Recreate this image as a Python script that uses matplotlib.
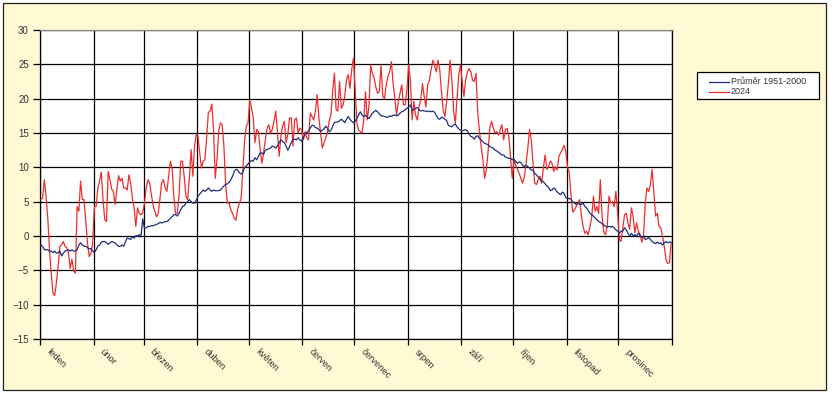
import numpy as np
import matplotlib
matplotlib.use('Agg')
import matplotlib.pyplot as plt
from matplotlib.patches import Rectangle
from matplotlib.lines import Line2D
from matplotlib.transforms import blended_transform_factory

plt.rcParams['font.family'] = ['Liberation Sans', 'DejaVu Sans']

months = ['leden', 'únor', 'březen', 'duben', 'květen', 'červen',
          'červenec', 'srpen', 'září', 'říjen', 'listopad', 'prosinec']
month_lengths = [31, 29, 31, 30, 31, 30, 31, 31, 30, 31, 30, 31]
y_ticks = [-15, -10, -5, 0, 5, 10, 15, 20, 25, 30]
label_avg = 'Průměr 1951-2000'
label_2024 = '2024'

# --- daily means 2024 (°C) ---
t24_jan = [5.3, 5.5, 8.2, 5.8, 2.6, -2.0, -5.4, -8.3, -8.7, -6.8, -4.4, -1.5, -1.3, -0.8, -1.5, -1.7,
           -2.5, -4.7, -3.4, -5.1, -5.4, 4.3, 3.6, 8.0, 5.3, 5.3, 2.1, -1.0, -3.0, -2.5, -1.0]
t24_feb = [4.3, 4.3, 7.0, 8.0, 9.3, 5.3, 2.4, 2.1, 9.4, 8.2, 6.8, 6.5, 4.6, 6.7, 8.8, 8.0, 8.4,
           7.0, 7.0, 6.7, 8.9, 7.7, 5.5, 4.1, 1.4, 4.1, 3.3, 3.1, 3.4]
t24_mar = [4.8, 7.0, 8.2, 7.7, 6.0, 4.5, 3.6, 2.8, 3.3, 5.5, 7.8, 8.2, 7.0, 6.5, 8.7, 10.9, 9.9,
           5.8, 3.3, 3.3, 5.8, 10.9, 10.9, 8.7, 5.8, 5.3, 8.5, 12.6, 8.7, 13.1, 14.8]
t24_apr = [14.5, 12.1, 9.9, 10.9, 11.1, 14.3, 18.0, 18.2, 19.2, 15.5, 8.4, 11.1, 15.3, 16.5, 16.2,
           13.1, 7.5, 4.8, 4.8, 3.8, 3.3, 2.6, 2.3, 4.0, 4.8, 5.5, 9.7, 14.0, 16.0, 16.5]
t24_may = [19.8, 18.6, 17.2, 13.6, 15.5, 15.2, 12.6, 10.6, 12.1, 14.0, 15.7, 16.2, 15.0, 15.5, 16.7,
           18.2, 15.2, 11.6, 14.5, 16.0, 16.7, 13.6, 14.8, 17.2, 17.2, 13.1, 16.9, 17.2, 15.0, 15.7, 15.5]
t24_jun = [14.0, 15.2, 14.3, 14.0, 17.9, 17.4, 16.9, 18.2, 20.6, 17.2, 15.0, 12.8, 13.6, 14.3, 15.2,
           16.7, 17.7, 21.1, 23.7, 18.4, 18.2, 22.5, 18.6, 19.1, 20.3, 22.8, 23.5, 21.5, 24.2, 25.9]
t24_jul = [21.5, 16.4, 15.4, 15.2, 15.0, 16.9, 21.0, 16.9, 18.8, 24.9, 23.7, 23.0, 21.7, 20.8, 21.0,
           24.9, 20.3, 20.0, 22.0, 23.2, 23.9, 25.4, 22.2, 20.0, 17.6, 19.6, 20.8, 22.0, 19.1, 19.1, 21.3]
t24_aug = [24.9, 22.7, 16.9, 19.6, 17.6, 16.9, 18.8, 19.8, 22.2, 20.3, 18.8, 22.0, 22.7, 24.2, 25.6,
           24.9, 23.9, 25.6, 24.2, 21.0, 18.3, 17.4, 19.6, 22.2, 25.6, 22.7, 18.3, 16.4, 20.0, 23.5, 24.9]
t24_sep = [22.5, 20.3, 22.7, 23.9, 24.4, 23.9, 22.7, 22.5, 23.7, 18.0, 15.2, 13.0, 11.1, 8.4, 9.7,
           12.3, 15.7, 16.7, 15.7, 15.0, 15.2, 14.7, 15.5, 16.2, 14.0, 15.5, 15.7, 14.5, 11.5, 8.4]
t24_oct = [11.1, 10.3, 9.7, 9.1, 8.4, 7.7, 8.6, 10.6, 12.8, 15.5, 14.0, 10.6, 7.7, 7.5, 8.2, 8.7,
           7.7, 9.9, 11.8, 9.7, 10.1, 10.9, 10.6, 9.4, 10.1, 9.6, 11.6, 12.1, 12.6, 13.2, 12.3]
t24_nov = [10.1, 9.2, 6.0, 3.5, 3.8, 4.3, 4.8, 5.3, 3.0, 1.4, 0.4, 0.7, 0.2, 1.4, 2.7, 5.8, 3.6,
           4.3, 3.3, 8.2, 2.9, 0.5, 0.2, 1.5, 5.8, 4.8, 5.0, 4.3, 6.5, 3.5]
t24_dec = [-0.5, -0.8, 1.2, 3.1, 3.3, 1.9, 1.0, 4.1, 2.8, 0.5, 1.9, 0.7, 0.2, -0.9, 0.0, 4.8, 7.0,
           6.5, 7.5, 9.7, 6.3, 2.9, 3.3, 1.4, 1.2, 0.0, -1.5, -3.4, -4.0, -3.9, -1.0]

# --- long-term daily mean 1951-2000 (°C) ---
avg_jan = [-1.3, -1.5, -2.0, -2.0, -2.0, -2.2, -2.2, -2.4, -2.2, -2.5, -2.4, -2.2, -2.9, -2.5, -2.2,
           -2.1, -2.0, -2.2, -2.0, -2.2, -2.2, -2.0, -1.3, -1.0, -1.3, -1.5, -1.5, -1.7, -1.9, -1.8, -2.2]
avg_feb = [-2.4, -2.0, -1.5, -1.3, -0.9, -0.8, -0.8, -1.0, -1.2, -1.0, -0.8, -0.9, -1.0, -1.3, -1.5,
           -1.5, -1.3, -1.5, -0.8, -0.3, -0.4, -0.5, -0.1, -0.3, 0.05, 0.0, 0.2, 0.0, 2.5]
avg_mar = [1.1, 1.2, 1.4, 1.4, 1.5, 1.5, 1.6, 1.7, 1.8, 2.0, 1.9, 2.0, 2.1, 2.1, 2.3, 2.6, 2.8, 3.1,
           3.1, 2.9, 3.3, 3.8, 4.3, 4.4, 4.8, 5.0, 5.3, 5.0, 4.8, 4.8, 5.2]
avg_apr = [5.8, 6.1, 6.4, 6.7, 6.5, 6.7, 7.0, 6.7, 6.5, 6.7, 6.6, 6.6, 6.6, 6.7, 7.0, 7.3, 7.5, 7.6,
           7.8, 8.2, 8.7, 9.4, 9.7, 9.6, 9.2, 9.0, 9.3, 10.0, 10.2, 10.5]
avg_may = [10.8, 11.0, 10.9, 11.4, 11.1, 11.6, 12.1, 12.1, 11.9, 12.5, 12.6, 12.7, 12.8, 13.1, 13.0,
           12.8, 13.1, 13.6, 14.0, 13.8, 13.6, 13.1, 12.5, 13.0, 13.6, 14.0, 14.1, 14.0, 14.3, 14.0, 13.8]
avg_jun = [14.3, 14.8, 15.1, 15.3, 15.7, 16.1, 16.1, 15.8, 15.7, 15.5, 15.2, 15.4, 15.6, 16.0, 15.7,
           15.2, 15.4, 16.0, 16.5, 16.6, 16.6, 16.8, 17.0, 16.8, 16.5, 17.0, 17.4, 17.0, 16.7, 16.5]
avg_jul = [16.7, 17.1, 17.6, 18.1, 17.6, 17.4, 17.6, 17.3, 17.1, 17.5, 17.9, 18.1, 18.3, 18.1, 17.8,
           17.5, 17.5, 17.4, 17.3, 17.3, 17.5, 17.4, 17.6, 17.6, 17.5, 17.6, 17.9, 18.1, 18.2, 18.4, 18.6]
avg_aug = [18.8, 19.1, 18.3, 18.4, 18.6, 18.7, 18.4, 18.2, 18.3, 18.2, 18.2, 18.1, 18.2, 18.1, 18.2,
           18.0, 17.6, 17.1, 17.0, 17.3, 17.2, 17.0, 16.8, 16.1, 16.0, 15.9, 16.2, 16.3, 15.9, 15.6, 15.4]
avg_sep = [15.3, 15.4, 15.5, 15.3, 14.8, 14.5, 14.4, 14.1, 14.5, 14.6, 14.2, 14.0, 13.7, 13.5, 13.4,
           13.3, 13.0, 12.9, 12.8, 12.5, 12.4, 12.2, 12.0, 11.8, 11.8, 11.5, 11.4, 11.3, 11.3, 11.1]
avg_oct = [11.2, 10.8, 10.6, 10.8, 10.7, 10.3, 10.1, 10.3, 10.1, 9.9, 9.6, 9.6, 9.1, 8.9, 8.6, 8.3,
           8.0, 7.9, 7.6, 7.3, 7.1, 6.6, 6.7, 7.0, 6.8, 6.4, 6.2, 6.0, 6.4, 6.2, 5.6]
avg_nov = [5.4, 5.5, 5.3, 5.0, 4.8, 4.6, 4.8, 4.6, 4.6, 4.8, 4.3, 4.1, 3.7, 3.3, 3.1, 2.9, 2.6, 2.4,
           2.1, 2.0, 1.8, 1.6, 1.4, 1.3, 1.4, 1.3, 1.4, 1.2, 0.9, 0.7]
avg_dec = [0.4, 0.7, 0.7, 1.2, 0.9, 0.4, 0.0, 0.4, 0.0, 0.2, 0.0, 0.4, 0.1, -0.2, 0.0, -0.5, -0.4,
           -0.2, -0.5, -0.8, -1.0, -1.1, -0.9, -1.1, -1.0, -1.3, -1.0, -0.8, -1.0, -0.9, -0.9]

t2024 = np.array(t24_jan + t24_feb + t24_mar + t24_apr + t24_may + t24_jun +
                 t24_jul + t24_aug + t24_sep + t24_oct + t24_nov + t24_dec)
tavg = np.array(avg_jan + avg_feb + avg_mar + avg_apr + avg_may + avg_jun +
                avg_jul + avg_aug + avg_sep + avg_oct + avg_nov + avg_dec)

n_days = sum(month_lengths)
month_starts = np.concatenate([[0], np.cumsum(month_lengths)])

color_avg = '#1F2F7A'
color_2024 = '#EE2E2E'

W, H = 834, 396


def fx(px):
    return px / W


def fy(py):
    return 1 - py / H


fig = plt.figure(figsize=(W / 100, H / 100), dpi=100, facecolor='white')
bg = '#FFFAD3'
fig.patches.append(Rectangle((fx(3), fy(390)), (826 - 3) / W, (390 - 3) / H,
                             transform=fig.transFigure, facecolor=bg,
                             edgecolor='#222222', linewidth=0.9, zorder=-10))

ax = fig.add_axes([fx(40), fy(339), (672 - 40) / W, (339 - 30) / H])
ax.set_facecolor('white')

x24 = np.arange(len(t2024)) + 0.5
xav = np.arange(len(tavg)) + 0.5
ax.plot(xav, tavg, color=color_avg, lw=0.9, label=label_avg, zorder=4)
ax.plot(x24, t2024, color=color_2024, lw=0.9, label=label_2024, zorder=3)

ax.set_xlim(0, n_days)
ax.set_ylim(-15, 30)
ax.set_yticks(y_ticks)
ax.set_xticks(month_starts)
ax.set_xticklabels([])
ax.grid(True, color='black', linewidth=0.9, zorder=1)
ax.set_axisbelow(True)
ax.tick_params(axis='y', length=5, width=0.9, direction='out', labelsize=7,
               labelcolor='#333333', pad=3)
ax.tick_params(axis='x', length=4, width=0.9, direction='out')
for s in ['left', 'bottom', 'right']:
    ax.spines[s].set_color('black')
    ax.spines[s].set_linewidth(0.9)
ax.spines['top'].set_color('#888888')
ax.spines['top'].set_linewidth(0.9)

trans = blended_transform_factory(ax.transData, ax.transAxes)
for start, name in zip(month_starts[:-1], months):
    ax.text(start + 4.5, -0.037, name, transform=trans, rotation=-45,
            rotation_mode='anchor', ha='left', va='center', fontsize=6.8,
            color='#333333')

# legend box (drawn in figure pixels to match the reference's padding)
fig.patches.append(Rectangle((fx(697), fy(99)), (819 - 697) / W, (99 - 72) / H,
                             transform=fig.transFigure, facecolor='white',
                             edgecolor='black', linewidth=0.9, zorder=5))
for (lab, col, py) in [(label_avg, color_avg, 81.5), (label_2024, color_2024, 92.0)]:
    fig.add_artist(Line2D([fx(709), fx(729)], [fy(py), fy(py)], color=col, lw=0.9,
                          transform=fig.transFigure, zorder=6))
    fig.text(fx(731), fy(py), lab, ha='left', va='center', fontsize=6.5,
             color='#333333', zorder=6)

fig.savefig('out.png', dpi=100, facecolor=fig.get_facecolor())
